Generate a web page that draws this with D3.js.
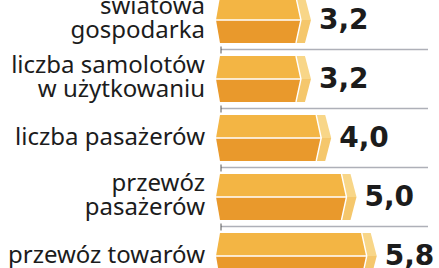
<!DOCTYPE html>
<html>
<head>
<meta charset="utf-8">
<script src="https://cdn.jsdelivr.net/npm/d3@7/dist/d3.min.js"></script>
<style>
  html, body { margin: 0; padding: 0; background: #fff; }
  svg { display: block; }
</style>
</head>
<body>
<div id="chart"></div>
<script>
// categories (each one split in lines as in the print)
var categories = [
  ["światowa", "gospodarka"],
  ["liczba samolotów", "w użytkowaniu"],
  ["liczba pasażerów"],
  ["przewóz", "pasażerów"],
  ["przewóz towarów"]
];
// growth values
var values = [3.2, 3.2, 4.0, 5.0, 5.8];
var xDomain = [0, 6];

var W = 439, H = 268;

// polish number format: comma as decimal separator
var plFormat = d3.formatLocale({decimal: ",", thousands: " ", grouping: [3], currency: ["", " zł"]}).format(".1f");

var svg = d3.select("#chart").append("svg")
    .attr("width", W)
    .attr("height", H);

var x = d3.scaleLinear().domain(xDomain).range([220, 371.8]);
var y = d3.scaleBand().domain(d3.range(values.length)).range([-9.5, 285.5]).padding(0);

var half = 23;      // half of bar height
var colTop = "#f3b544",
    colBottom = "#e9992c",
    capTop = "#f8d688",
    capBottom = "#f5c76c";

var rows = svg.selectAll("g.row")
    .data(values)
    .enter().append("g")
    .attr("class", "row")
    .attr("transform", function(d, i) { return "translate(0," + (y(i) + y.bandwidth() / 2) + ")"; });

// separators under each row
rows.filter(function(d, i) { return i < values.length - 1; })
  .each(function(d, i) {
    var g = d3.select(this);
    var sy = y.bandwidth() / 2;
    g.append("line")
      .attr("x1", x(0) + 1).attr("x2", 428)
      .attr("y1", sy).attr("y2", sy)
      .attr("stroke", "#aeb0b8").attr("stroke-width", 1.3);
    g.append("line")
      .attr("x1", x(0) + 1).attr("x2", x(0) + 1)
      .attr("y1", sy - 3).attr("y2", sy + 4)
      .attr("stroke", "#555").attr("stroke-width", 1);
  });

// bar body + hexagonal end cap
rows.each(function(d) {
  var g = d3.select(this);
  var L = x(0) - 4, R = x(d);
  var line = d3.line();
  g.append("path")
    .attr("d", line([[L + 4, -half], [R - 5, -half], [R, 0], [L, 0]]) + "Z")
    .attr("fill", colTop);
  g.append("path")
    .attr("d", line([[L, 0], [R, 0], [R - 5, half], [L + 4, half]]) + "Z")
    .attr("fill", colBottom);
  g.append("path")
    .attr("d", line([[R - 5, -half], [R + 4, -half], [R + 10, 0], [R, 0]]) + "Z")
    .attr("fill", capTop);
  g.append("path")
    .attr("d", line([[R, 0], [R + 10, 0], [R + 4, half], [R - 5, half]]) + "Z")
    .attr("fill", capBottom);
  // white edges
  g.append("path")
    .attr("d", line([[L, 0], [R, 0]]))
    .attr("stroke", "#fff").attr("stroke-width", 1.4).attr("fill", "none");
  g.append("path")
    .attr("d", line([[R - 5, -half], [R, 0], [R - 5, half]]))
    .attr("stroke", "#fff").attr("stroke-width", 1.4).attr("fill", "none");
});

// value labels
rows.append("text")
  .attr("x", function(d) { return x(d) + 18; })
  .attr("y", 9)
  .attr("font-family", "DejaVu Sans")
  .attr("font-weight", "bold")
  .attr("font-size", 28)
  .attr("fill", "#1c1c1c")
  .text(function(d) { return plFormat(d); });

// category labels
rows.append("text")
  .attr("x", 205)
  .attr("text-anchor", "end")
  .attr("font-family", "Noto Sans")
  .attr("font-size", 24)
  .attr("fill", "#1c1c1c")
  .each(function(d, i) {
    var lines = categories[i];
    var t = d3.select(this);
    var y0 = lines.length === 1 ? 7 : -6;
    lines.forEach(function(s, k) {
      t.append("tspan").attr("x", 205).attr("y", y0 + k * 24).text(s);
    });
  });
</script>
</body>
</html>
